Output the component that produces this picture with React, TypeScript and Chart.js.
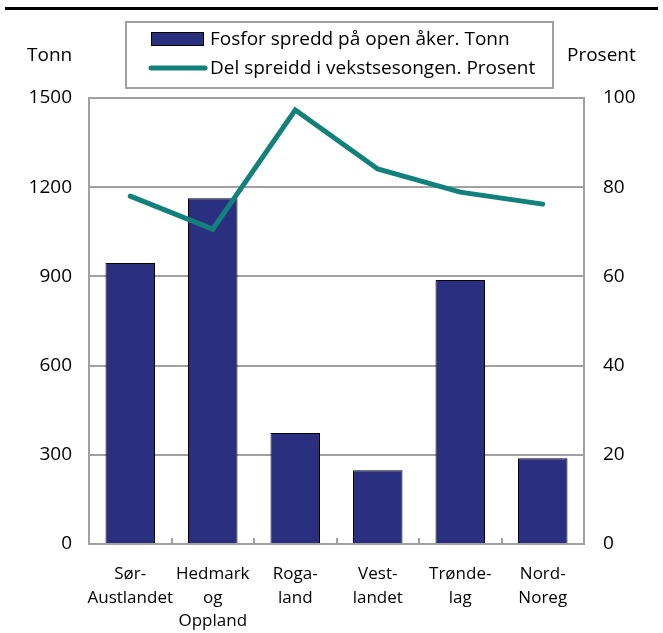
import React, { useEffect, useRef } from "react";
import { Chart, registerables } from "chart.js";

Chart.register(...registerables);

const categories: string[][] = [
  ["Sør-", "Austlandet"],
  ["Hedmark", "og", "Oppland"],
  ["Roga-", "land"],
  ["Vest-", "landet"],
  ["Trønde-", "lag"],
  ["Nord-", "Noreg"],
];
const fosforTonn = [945, 1163, 373, 248, 888, 288];
const delProsent = [78.0, 70.6, 97.3, 84.1, 78.9, 76.2];
const leftTicks = [0, 300, 600, 900, 1200, 1500];
const rightTicks = [0, 20, 40, 60, 80, 100];
const barLabel = "Fosfor spredd på open åker. Tonn";
const lineLabel = "Del spreidd i vekstsesongen. Prosent";
const leftTitle = "Tonn";
const rightTitle = "Prosent";

const FONT = "'Open Sans', sans-serif";
const BAR_COLOR = "#2B2F7F";
const LINE_COLOR = "#12807B";
const GRID = "#A0A0A0";

const decorPlugin = {
  id: "decor",
  afterDatasetsDraw(chart: any) {
    const { ctx, scales } = chart;
    const x = scales.x;
    const area = chart.chartArea;
    ctx.save();
    ctx.strokeStyle = GRID;
    ctx.lineWidth = 2;
    for (let i = 1; i < categories.length; i++) {
      const px = Math.round((x.getPixelForValue(i - 1) + x.getPixelForValue(i)) / 2);
      ctx.beginPath();
      ctx.moveTo(px, area.bottom);
      ctx.lineTo(px, area.bottom - 6);
      ctx.stroke();
    }
    ctx.restore();
  },
  afterDraw(chart: any) {
    const { ctx } = chart;
    ctx.save();
    ctx.strokeStyle = "#000";
    ctx.lineWidth = 3;
    ctx.beginPath();
    ctx.moveTo(5, 8.5);
    ctx.lineTo(658, 8.5);
    ctx.stroke();

    ctx.fillStyle = "#000";
    ctx.font = `19px ${FONT}`;
    ctx.textBaseline = "middle";
    ctx.textAlign = "left";
    ctx.fillText(leftTitle, 27, 56);
    ctx.fillText(rightTitle, 567, 56);

    const bx = 126, by = 22, bw = 427, bh = 66;
    ctx.fillStyle = "#fff";
    ctx.fillRect(bx, by, bw, bh);
    ctx.strokeStyle = GRID;
    ctx.lineWidth = 2;
    ctx.strokeRect(bx, by, bw, bh);

    ctx.fillStyle = BAR_COLOR;
    ctx.fillRect(151, 32, 53, 14);
    ctx.strokeStyle = "#000";
    ctx.lineWidth = 1;
    ctx.strokeRect(151.5, 32.5, 52, 13);

    ctx.strokeStyle = LINE_COLOR;
    ctx.lineWidth = 5;
    ctx.lineCap = "round";
    ctx.beginPath();
    ctx.moveTo(151, 68);
    ctx.lineTo(205, 68);
    ctx.stroke();

    ctx.fillStyle = "#000";
    ctx.font = `19px ${FONT}`;
    ctx.textAlign = "left";
    ctx.fillText(chart.data.datasets[0].label, 210, 40);
    ctx.fillText(chart.data.datasets[1].label, 210, 69);
    ctx.restore();
  },
};

export default function App() {
  const ref = useRef<HTMLCanvasElement | null>(null);
  useEffect(() => {
    if (!ref.current) return;
    const chart = new Chart(ref.current, {
      type: "bar",
      data: {
        labels: categories as any,
        datasets: [
          {
            type: "bar",
            label: barLabel,
            data: fosforTonn,
            backgroundColor: BAR_COLOR,
            borderColor: "#000",
            borderWidth: 1,
            categoryPercentage: 0.6,
            barPercentage: 1,
            yAxisID: "y",
            order: 2,
          },
          {
            type: "line",
            label: lineLabel,
            data: delProsent,
            borderColor: LINE_COLOR,
            borderWidth: 5,
            pointRadius: 0,
            tension: 0,
            fill: false,
            yAxisID: "y1",
            order: 1,
            borderCapStyle: "round",
          } as any,
        ],
      },
      plugins: [decorPlugin],
      options: {
        responsive: false,
        animation: false,
        layout: { padding: { top: 98, left: 0, right: 0, bottom: 0 } },
        plugins: { legend: { display: false }, tooltip: { enabled: false } },
        scales: {
          x: {
            grid: { display: false, drawTicks: false },
            border: { display: true, color: GRID, width: 2 },
            ticks: {
              color: "#000",
              font: { family: FONT, size: 17, lineHeight: 1.4 },
              padding: 18,
              maxRotation: 0,
              autoSkip: false,
            },
            afterFit: (s: any) => {
              s.height = 89;
            },
          },
          y: {
            position: "left",
            min: 0,
            max: 1500,
            afterBuildTicks: (s: any) => {
              s.ticks = leftTicks.map((v) => ({ value: v }));
            },
            grid: { color: GRID, lineWidth: 2, drawTicks: false },
            border: { display: true, color: GRID, width: 2 },
            ticks: {
              color: "#000",
              font: { family: FONT, size: 19 },
              padding: 17,
              callback: (v: any) => String(v),
            },
            afterFit: (s: any) => {
              s.width = 89;
            },
          },
          y1: {
            position: "right",
            min: 0,
            max: 100,
            afterBuildTicks: (s: any) => {
              s.ticks = rightTicks.map((v) => ({ value: v }));
            },
            grid: { display: false, drawTicks: false },
            border: { display: true, color: GRID, width: 2 },
            ticks: {
              color: "#000",
              font: { family: FONT, size: 19 },
              padding: 19,
              callback: (v: any) => String(v),
            },
            afterFit: (s: any) => {
              s.width = 79;
            },
          },
        },
      },
    });
    return () => chart.destroy();
  }, []);
  return (
    <div style={{ position: "fixed", left: 0, top: 0, width: 663, height: 633, background: "#fff" }}>
      <canvas ref={ref} width={663} height={633} style={{ display: "block" }} />
    </div>
  );
}
